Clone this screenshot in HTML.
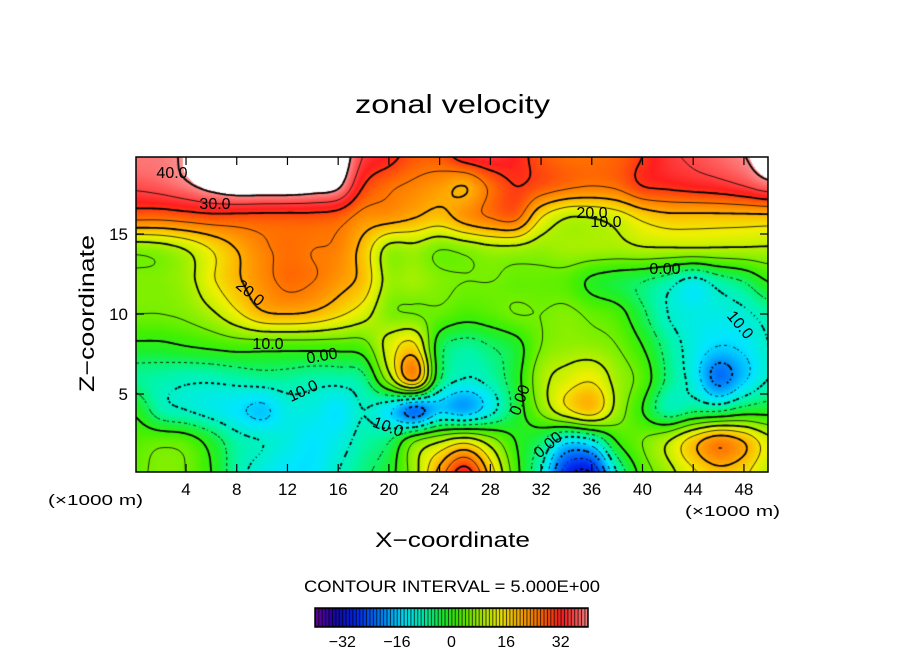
<!DOCTYPE html>
<html><head><meta charset="utf-8"><style>
html,body{margin:0;padding:0;background:#fff;}
#wrap{position:relative;width:904px;height:654px;overflow:hidden;font-family:"Liberation Sans",sans-serif;}
canvas{position:absolute;}
svg{position:absolute;left:0;top:0;}
</style></head><body>
<div id="wrap">
<canvas id="field" width="632" height="315" style="left:136px;top:157px"></canvas>
<canvas id="cbar" width="273" height="19" style="left:315px;top:608px"></canvas>
<svg id="ov" width="904" height="654"></svg>
</div>
<script>
// ---- data ----
const xCoords = [0,2,4,6,8,10,12,14,16,18,20,22,24,26,28,30,32,34,36,38,40,42,44,46,48,50];
const zCoords = [0,2,4,6,8,10,12,14,16,18,20];
const rowZ0  = [4,6,5,0,-8,-12,-14,-14,-10,-6,-2,8,22,33,18,2,-10,-28,-30,-10,2,8,14,18,16,10];
const rowZ2  = [3,4,3,-2,-8,-10,-12,-14,-12,-8,-5,5,10,14,8,0,-5,-14,-12,0,5,10,18,24,20,12];
const rowZ4  = [-1,-8,-10,-12,-14,-16,-12,-12,-14,-10,-14,-22,-16,-18,-12,-3,6,14,18,8,0,-8,-6,-6,-3,-2];
const rowZ6  = [-7,-8,-9,-9,-8,-7,-7,-8,-8,-6,8,22,-4,-10,-8,-2,8,12,14,8,3,-6,-12,-22,-16,-10];
const rowZ8  = [-1,-1,0,1,2,2,2,2,2,3,12,16,-3,-7,-5,-2,5,7,7,5,0,-7,-12,-15,-14,-10];
const rowZ10 = [5,5,6,9,14,19,20,19,16,12,6,5,4,2,3,5,5,6,4,2,-4,-10,-12,-12,-11,-8];
const rowZ12 = [6,6,8,14,19,23,26,25,22,18,8,8,6,5,5,4,4,3,-1,-3,-5,-8,-12,-8,-5,0];
const rowZ14 = [6,7,10,15,20,24,26,25,24,18,8,8,5,6,8,8,7,8,8,8,9,9,9,9,9,9];
const rowZ16 = [26,26,27,28,28,28,28,28,27,23,22,20,18,22,25,26,15,10,10,12,16,18,18,18,18,18];
const rowZ18 = [36,37,39,42,44,44,44,43,41,30,26,24,22,20,26,30,28,26,25,26,30,31,32,33,35,38];
const rowZ20 = [39,39,41,46,46,46,46,46,45,35,32,28,28,33,34,32,28,26,26,27,30,34,36,38,40,44];
const xTicks = [4,8,12,16,20,24,28,32,36,40,44,48];
const zTicks = [5,10,15];
const cbTicks = [-32,-16,0,16,32];
const contourLevels = [-35,-30,-25,-20,-15,-10,-5,0,5,10,15,20,25,30,35,40];
const grid = [rowZ0,rowZ2,rowZ4,rowZ6,rowZ8,rowZ10,rowZ12,rowZ14,rowZ16,rowZ18,rowZ20];

// ---- axes ----
const PL=136,PR=768,PT=157,PB=472;
const xPx = x => 135.3 + 12.68*x;
const zPx = z => 474 - 16*z;
const xOf = px => (px-135.3)/12.68;
const zOf = py => (474-py)/16;

const anchors=[[-40,[110,0,160]],[-34,[20,10,170]],[-28,[0,40,240]],[-20,[0,140,255]],[-14,[0,230,255]],[-8,[0,245,170]],[-2,[30,240,40]],[2,[70,240,0]],[8,[160,240,0]],[14,[240,240,0]],[20,[255,175,0]],[26,[255,110,0]],[32,[255,30,30]],[37,[255,90,90]],[40.5,[250,150,150]]];
function cmap(v){
  if(v>40.5) return [255,255,255];
  if(v<=anchors[0][0]) return anchors[0][1];
  for(let i=1;i<anchors.length;i++){
    if(v<=anchors[i][0]){const a=anchors[i-1],b=anchors[i];const t=(v-a[0])/(b[0]-a[0]);
      return [0,1,2].map(k=>a[1][k]+(b[1][k]-a[1][k])*t);}
  }
  return anchors[anchors.length-1][1];
}
function g(i,j){i=Math.max(0,Math.min(xCoords.length-1,i));j=Math.max(0,Math.min(zCoords.length-1,j));return grid[j][i];}
function cr(p0,p1,p2,p3,t){return 0.5*((2*p1)+(-p0+p2)*t+(2*p0-5*p1+4*p2-p3)*t*t+(-p0+3*p1-3*p2+p3)*t*t*t);}
function field(x,z){
  const fx=x/2,fz=z/2;const i=Math.floor(fx),j=Math.floor(fz);const tx=fx-i,tz=fz-j;
  const r=[];for(let m=-1;m<=2;m++){r.push(cr(g(i-1,j+m),g(i,j+m),g(i+1,j+m),g(i+2,j+m),tx));}
  return cr(r[0],r[1],r[2],r[3],tz);
}
const cv=document.getElementById('field');const ctx=cv.getContext('2d');
const W=632,H=315;const img=ctx.createImageData(W,H);
for(let j=0;j<H;j++){const z=zOf(PT+j+0.5);for(let i=0;i<W;i++){const x=xOf(PL+i+0.5);const c=cmap(field(x,z));const k=(j*W+i)*4;img.data[k]=c[0];img.data[k+1]=c[1];img.data[k+2]=c[2];img.data[k+3]=255;}}
ctx.putImageData(img,0,0);
const S=3;const nx=Math.ceil(W/S)+1,nz=Math.ceil(H/S)+1;const F=[];
for(let j=0;j<nz;j++){F.push([]);for(let i=0;i<nx;i++){F[j].push(field(xOf(PL+i*S),zOf(PT+j*S)));}}
ctx.strokeStyle='#000';
contourLevels.forEach(L=>{
  ctx.lineWidth=(L%10===0)?1.8:0.8;
  ctx.beginPath();
  for(let j=0;j<nz-1;j++)for(let i=0;i<nx-1;i++){
    if(L<0 && ((i+j)%2===1)) continue;
    const a=F[j][i],b=F[j][i+1],c=F[j+1][i+1],d=F[j+1][i];
    const pts=[];
    const e=(v1,v2,x1,y1,x2,y2)=>{if((v1<L)!==(v2<L)){const t=(L-v1)/(v2-v1);pts.push([x1+(x2-x1)*t,y1+(y2-y1)*t]);}};
    const x0=i*S,y0=j*S,x1=x0+S,y1=y0+S;
    e(a,b,x0,y0,x1,y0);e(b,c,x1,y0,x1,y1);e(c,d,x1,y1,x0,y1);e(d,a,x0,y1,x0,y0);
    for(let k=0;k+1<pts.length;k+=2){ctx.moveTo(pts[k][0],pts[k][1]);ctx.lineTo(pts[k+1][0],pts[k+1][1]);}
  }
  ctx.stroke();
});
const cb=document.getElementById('cbar');const cc=cb.getContext('2d');
cc.fillStyle='#000';cc.fillRect(0,0,273,19);
const nS=80;const sw=273/nS;
for(let s=0;s<nS;s++){const v=-40+(s+0.5)*(80/nS);const c=cmap(Math.min(v,40.4));cc.fillStyle=`rgb(${c.map(Math.round).join(',')})`;cc.fillRect(s*sw+0.8,1,sw-0.9,17);}

const NS='http://www.w3.org/2000/svg';const ov=document.getElementById('ov');
function mk(tag,attrs,name,text){const el=document.createElementNS(NS,tag);for(const k in attrs)el.setAttribute(k,attrs[k]);
  
  
  if(text!==undefined)el.textContent=text;ov.appendChild(el);return el;}
mk('rect',{x:PL,y:PT,width:PR-PL,height:PB-PT,fill:'none',stroke:'#000','stroke-width':1.5},'plot-frame');
xTicks.forEach(t=>{const x=xPx(t);
  mk('line',{x1:x,y1:PB,x2:x,y2:PB-8,stroke:'#000','stroke-width':1.2},'x-tick');
  mk('line',{x1:x,y1:PT,x2:x,y2:PT+8,stroke:'#000','stroke-width':1.2},'x-tick-top');
  mk('text',{x:x,y:495,'font-size':17,'text-anchor':'middle'},'x-tick-label',String(t));});
zTicks.forEach(t=>{const y=zPx(t);
  mk('line',{x1:PL,y1:y,x2:PL+8,y2:y,stroke:'#000','stroke-width':1.2},'z-tick');
  mk('line',{x1:PR,y1:y,x2:PR-8,y2:y,stroke:'#000','stroke-width':1.2},'z-tick-right');
  mk('text',{x:128,y:y+6,'font-size':17,'text-anchor':'end'},'z-tick-label',String(t));});
cbTicks.forEach(t=>{const x=315+(t+40)/80*273;mk('text',{x:x,y:647,'font-size':16,'text-anchor':'middle'},'colorbar-tick-label',String(t).replace('-','\u2212'));});
mk('text',{x:355,y:113,'font-size':26,textLength:195,lengthAdjust:'spacingAndGlyphs'},'chart-title','zonal velocity');
mk('text',{x:375,y:547,'font-size':21,textLength:155,lengthAdjust:'spacingAndGlyphs'},'x-axis-title','X\u2212coordinate');
mk('text',{x:94,y:392,'font-size':21,textLength:157,lengthAdjust:'spacingAndGlyphs',transform:'rotate(-90 94 392)'},'z-axis-title','Z\u2212coordinate');
mk('text',{x:48,y:505,'font-size':15,textLength:95,lengthAdjust:'spacingAndGlyphs'},'x-unit-left','(\u00d71000 m)');
mk('text',{x:685,y:516,'font-size':15,textLength:95,lengthAdjust:'spacingAndGlyphs'},'x-unit-right','(\u00d71000 m)');
mk('text',{x:304,y:592,'font-size':17,textLength:296,lengthAdjust:'spacingAndGlyphs'},'contour-interval','CONTOUR INTERVAL = 5.000E+00');
mk('rect',{x:315,y:608,width:273,height:19,fill:'none',stroke:'#000','stroke-width':1.5},'colorbar-frame');
const cl=[["40.0",172,178,0],["30.0",215,209,0],["20.0",250,298,40],["10.0",268,349,0],["0.00",322,361,-10],["10.0",303,396,-25],["10.0",388,432,20],["20.0",592,218,0],["10.0",606,227,0],["0.00",665,274,0],["10.0",740,330,50],["0.00",520,405,-70],["0.00",548,450,-40]];
cl.forEach(c=>{mk('text',{x:c[1],y:c[2],'font-size':16,'text-anchor':'middle',transform:`rotate(${c[3]} ${c[1]} ${c[2]-5})`},'contour-label',c[0]);});
</script>
</body></html>
